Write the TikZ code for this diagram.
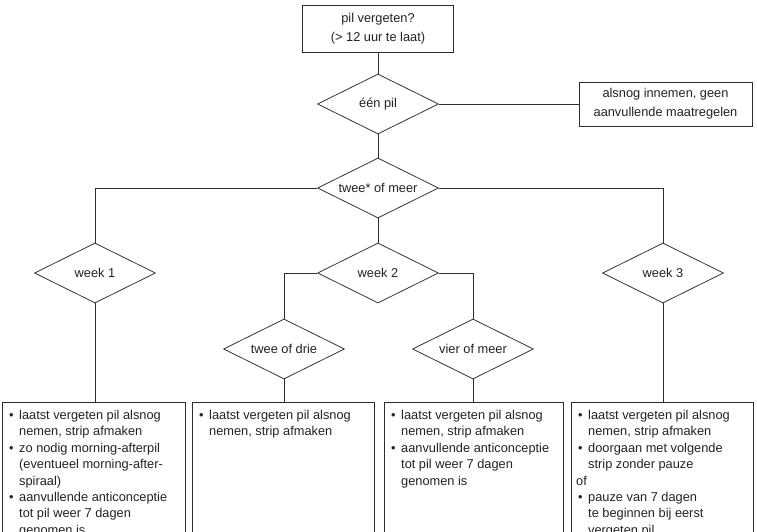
\documentclass[tikz,border=0pt]{standalone}
\usepackage{fontspec}
\setmainfont{Liberation Sans}
\usetikzlibrary{shapes.geometric}
\definecolor{ln}{RGB}{45,45,45}
\definecolor{tx}{RGB}{35,35,35}
\newcommand{\bl}{\makebox[10pt][l]{\textbullet}}
\newcommand{\ind}{\hspace*{10pt}}
\begin{document}
\begin{tikzpicture}[x=1pt,y=-1pt,
  conn/.style={draw=ln, line width=0.75pt},
  box/.style={draw=ln, line width=0.75pt, rectangle, inner sep=0pt, text=tx,
    font=\fontsize{12.8}{19}\selectfont, align=center},
  dia/.style={draw=ln, line width=0.75pt, diamond, aspect=2, inner sep=0pt,
    minimum width=121pt, minimum height=60pt, text=tx,
    font=\fontsize{12.8}{15}\selectfont},
  panel/.style={rectangle, inner sep=0pt, minimum height=129pt},
  ptext/.style={anchor=north west, inner sep=0pt, align=left, text=tx,
    font=\fontsize{12.8}{16.4}\selectfont}]
\useasboundingbox (0,0) rectangle (757,532);
\fill[white] (0,0) rectangle (757,532);

\node[box, minimum width=151pt, minimum height=47pt] (start) at (378,28.5)
  {pil vergeten?\\(> 12 uur te laat)};
\node[dia] (d1) at (378,104) {één pil};
\node[box, minimum width=173pt, minimum height=44pt] (r1) at (665.5,104)
  {alsnog innemen, geen\\aanvullende maatregelen};
\node[dia] (d2) at (378,188) {twee* of meer};
\node[dia] (w1) at (95,273) {week 1};
\node[dia] (w2) at (378,273) {week 2};
\node[dia] (w3) at (663,273) {week 3};
\node[dia] (t23) at (284,349) {twee of drie};
\node[dia] (v4) at (473,349) {vier of meer};

\node[panel, minimum width=182pt] (b1) at (94,467.5) {};
\node[panel, minimum width=181pt] (b2) at (283.5,467.5) {};
\node[panel, minimum width=178pt] (b3) at (474,467.5) {};
\node[panel, minimum width=181pt] (b4) at (662.5,467.5) {};
\foreach \b in {b1,b2,b3,b4}
  \draw[conn] (\b.south west) -- (\b.north west) -- (\b.north east) -- (\b.south east);

\node[ptext] (b1t) at (9,410) {\bl laatst vergeten pil alsnog\\
  \ind nemen, strip afmaken\\
  \bl zo nodig morning-afterpil\\
  \ind (eventueel morning-after-\\
  \ind spiraal)\\
  \bl aanvullende anticonceptie\\
  \ind tot pil weer 7 dagen\\
  \ind genomen is};
\node[ptext] (b2t) at (199,410) {\bl laatst vergeten pil alsnog\\
  \ind nemen, strip afmaken};
\node[ptext] (b3t) at (391,410) {\bl laatst vergeten pil alsnog\\
  \ind nemen, strip afmaken\\
  \bl aanvullende anticonceptie\\
  \ind tot pil weer 7 dagen\\
  \ind genomen is};
\node[ptext] (b4t) at (578,410) {\bl laatst vergeten pil alsnog\\
  \ind nemen, strip afmaken\\
  \bl doorgaan met volgende\\
  \ind strip zonder pauze\\
  \hspace*{-2pt}of\\
  \bl pauze van 7 dagen\\
  \ind te beginnen bij eerst\\
  \ind vergeten pil};

\draw[conn] (start.south) -- (d1.north);
\draw[conn] (d1.east) -- (r1.west);
\draw[conn] (d1.south) -- (d2.north);
\draw[conn] (d2.west) -| (w1.north);
\draw[conn] (d2.east) -| (w3.north);
\draw[conn] (d2.south) -- (w2.north);
\draw[conn] (w2.west) -| (t23.north);
\draw[conn] (w2.east) -| (v4.north);
\draw[conn] (w1.south) -- (w1.south |- b1.north);
\draw[conn] (t23.south) -- (t23.south |- b2.north);
\draw[conn] (v4.south) -- (v4.south |- b3.north);
\draw[conn] (w3.south) -- (w3.south |- b4.north);
\end{tikzpicture}
\end{document}
